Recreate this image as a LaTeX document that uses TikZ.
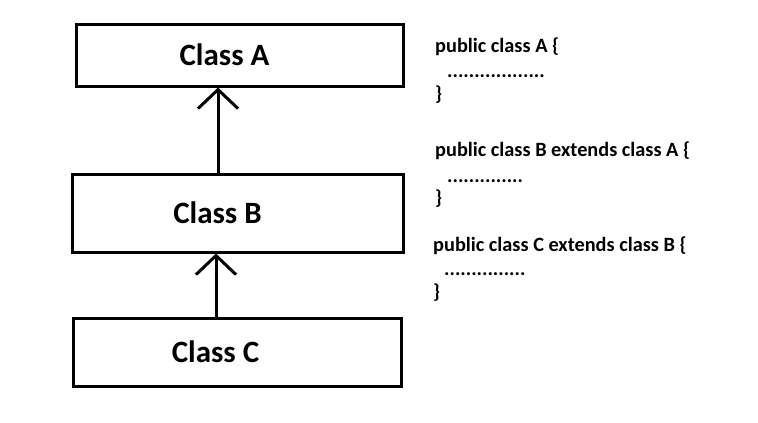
\documentclass[tikz,border=0pt]{standalone}
\usepackage{fontspec}
\setmainfont{Carlito}
\usetikzlibrary{arrows.meta}

\tikzset{
  classbox/.style={draw, line width=3pt, rectangle},
  classname/.style={font=\fontsize{31}{36}\selectfont\bfseries},
  inherits/.style={line width=3pt, -{Straight Barb[length=19pt, width=40pt]}},
  code/.style={anchor=base west, inner sep=0pt, font=\fontsize{20.3}{25}\selectfont\bfseries}
}

\begin{document}
\begin{tikzpicture}[x=1pt, y=-1pt]
  \useasboundingbox (0,0) rectangle (758,423);

  % class boxes
  \node[classbox, minimum width=327pt, minimum height=62pt,
        label={[classname, xshift=-15pt]center:Class A}] (classA) at (239.5,55) {};
  \node[classbox, minimum width=331pt, minimum height=78pt,
        label={[classname, xshift=-20pt]center:Class B}] (classB) at (237.5,213) {};
  \node[classbox, minimum width=328pt, minimum height=68pt,
        label={[classname, xshift=-21.5pt]center:Class C}] (classC) at (237,352) {};

  % inheritance arrows
  \draw[inherits] ([xshift=-19.5pt]classB.north) -- ([xshift=-21.5pt]classA.south);
  \draw[inherits] ([xshift=-21pt]classC.north) -- ([xshift=-21.5pt]classB.south);

  % code
  \node[code] (declA) at (435,52) {public class A \{};
  \node[code] (bodyA) at (447,77) {..................};
  \node[code] (endA) at (435,100) {\}};

  \node[code] (declB) at (435,156) {public class B extends class A \{};
  \node[code] (bodyB) at (447,182) {..............};
  \node[code] (endB) at (435,204) {\}};

  \node[code] (declC) at (433,251) {public class C extends class B \{};
  \node[code] (bodyC) at (444,275) {...............};
  \node[code] (endC) at (433,298) {\}};
\end{tikzpicture}
\end{document}
